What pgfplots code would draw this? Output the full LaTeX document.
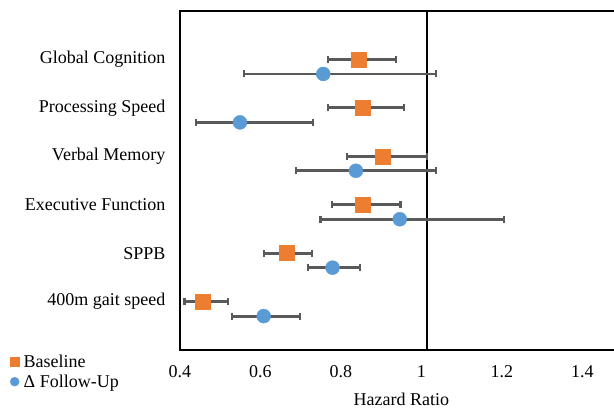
\documentclass[border=0pt]{standalone}
\usepackage{fontspec}
\setmainfont{Liberation Serif}
\usepackage{pgfplots}
\usepackage{pgfplotstable}
\pgfplotsset{compat=1.18}

\definecolor{baseorange}{HTML}{ED7D31}
\definecolor{fublue}{HTML}{5B9BD5}
\definecolor{bargray}{HTML}{595959}
\newcommand{\chartfont}{\fontsize{18}{21}\selectfont}

\pgfplotsset{
    small legend mark/.style={
        legend image code/.code={\draw[##1, mark size=4.5pt] plot coordinates {(0pt,0pt)};}},
    ci bars/.style={
        error bars/.cd, x dir=both, x explicit, error mark=|,
        error bar style={draw=bargray, line width=2.8pt},
        error mark options={draw=bargray, mark size=3.5pt, line width=2.2pt}},
}

% hazard ratio with lower / upper bound
\pgfplotstableread{
y   est   lo    hi
6   0.844 0.767 0.937
5   0.855 0.767 0.956
4   0.904 0.815 1.014
3   0.855 0.777 0.948
2   0.666 0.609 0.727
1   0.457 0.411 0.520
}\basetab

\pgfplotstableread{
y   est   lo    hi
5.7 0.756 0.560 1.037
4.7 0.549 0.440 0.730
3.7 0.837 0.689 1.037
2.7 0.946 0.749 1.205
1.7 0.779 0.718 0.847
0.7 0.608 0.530 0.699
}\followtab

\begin{document}
\begin{tikzpicture}
\useasboundingbox (-180pt,-58pt) rectangle (434pt,350pt);
\begin{axis}[
    scale only axis,
    width=442.75pt, height=339pt,
    xmin=0.4, xmax=1.5,
    ymin=0, ymax=7,
    xtick={0.4,0.6,0.8,1,1.2,1.4},
    xticklabels={0.4,0.6,0.8,1,1.2,1.4},
    ytick={1,2,3,4,5,6},
    yticklabels={400m gait speed, SPPB, Executive Function, Verbal Memory, Processing Speed, Global Cognition},
    major tick length=0pt,
    axis line style={line width=2.6pt},
    /pgf/number format/assume math mode=true,
    tick label style={font=\chartfont},
    yticklabel style={xshift=-11pt},
    xticklabel style={yshift=-12pt},
    xlabel={Hazard Ratio},
    xlabel style={font=\chartfont, yshift=-8pt},
    legend style={at={(rel axis cs:0,0)}, anchor=north west,
        xshift=-170pt, yshift=-3pt, draw=none, fill=none,
        font=\chartfont, row sep=3pt, column sep=3pt, inner sep=0pt,
        nodes={inner sep=1.5pt}},
    legend cell align=left,
]
% reference line
\addplot[forget plot, black, line width=2.4pt] coordinates {(1.014,0) (1.014,7)};

\addplot[only marks, mark=square*, mark size=7.5pt, color=baseorange,
    small legend mark, ci bars]
    table[x=est, y=y,
          x error plus expr=\thisrow{hi}-\thisrow{est},
          x error minus expr=\thisrow{est}-\thisrow{lo}] {\basetab};
\addlegendentry{Baseline}

\addplot[only marks, mark=*, mark size=7pt, color=fublue,
    small legend mark, ci bars]
    table[x=est, y=y,
          x error plus expr=\thisrow{hi}-\thisrow{est},
          x error minus expr=\thisrow{est}-\thisrow{lo}] {\followtab};
\addlegendentry{Δ Follow-Up}
\end{axis}
\end{tikzpicture}
\end{document}
